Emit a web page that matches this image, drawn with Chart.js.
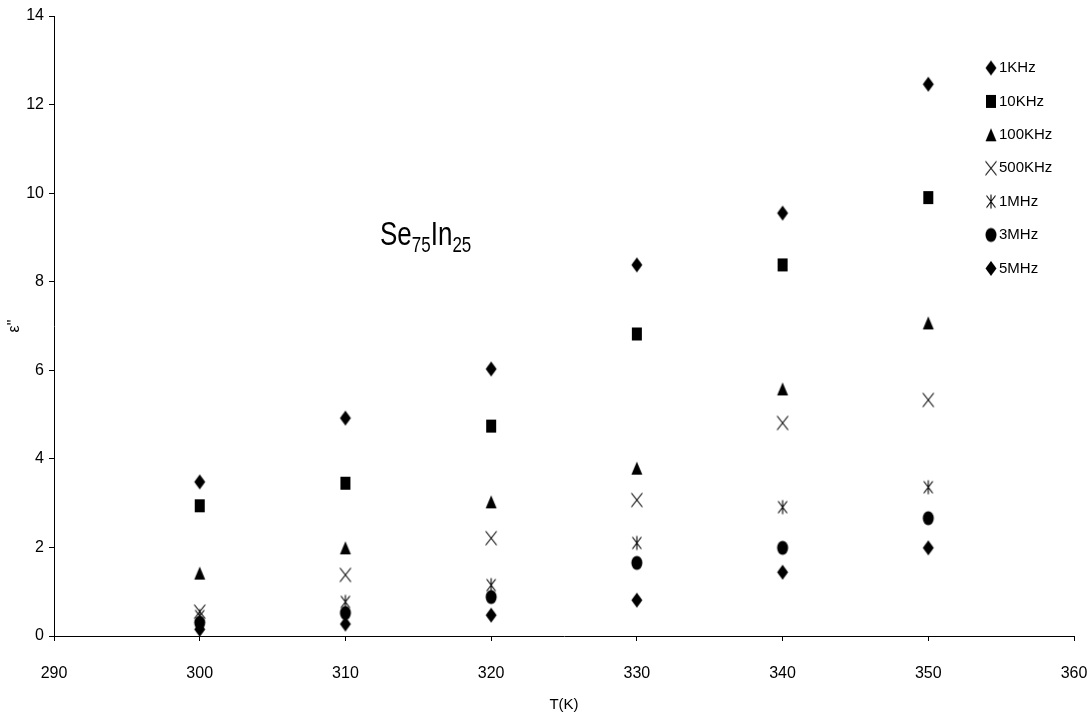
<!DOCTYPE html>
<html>
<head>
<meta charset="utf-8">
<script src="https://cdn.jsdelivr.net/npm/chart.js@4/dist/chart.umd.min.js"></script>
<style>
    html, body { margin: 0; padding: 0; background: #fff; }
    #wrap { width: 1090px; height: 719px; position: relative; }
</style>
</head>
<body>
<div id="wrap"><canvas id="epsChart"></canvas></div>
<script>
// --- Data ---
const temps = [300, 310, 320, 330, 340, 350];
const eps1k   = [3.48, 4.92, 6.03, 8.38, 9.55, 12.46];
const eps10k  = [2.94, 3.45, 4.74, 6.82, 8.38, 9.90];
const eps100k = [1.42, 1.99, 3.03, 3.79, 5.58, 7.07];
const eps500k = [0.55, 1.38, 2.21, 3.07, 4.81, 5.33];
const eps1M   = [0.45, 0.77, 1.15, 2.10, 2.91, 3.36];
const eps3M   = [0.30, 0.52, 0.88, 1.65, 1.99, 2.66];
const eps5M   = [0.15, 0.27, 0.47, 0.81, 1.44, 1.99];
const seriesLabels = ['1KHz', '10KHz', '100KHz', '500KHz', '1MHz', '3MHz', '5MHz'];
const xTicks = [290, 300, 310, 320, 330, 340, 350, 360];
const yTicks = [0, 2, 4, 6, 8, 10, 12, 14];

const FONT = "'Liberation Sans', Arial, sans-serif";

// small canvas markers, a bit taller than wide like the original
const makeMarker = (kind) => {
    const w = 14, h = 17;
    const c = document.createElement('canvas');
    c.width = w; c.height = h;
    const g = c.getContext('2d');
    g.fillStyle = '#000'; g.strokeStyle = '#000'; g.lineWidth = 1.1;
    const cx = w / 2, cy = h / 2;
    g.beginPath();
    if (kind === 'diamond') {
        g.moveTo(cx, cy - 7.5); g.lineTo(cx + 5.5, cy); g.lineTo(cx, cy + 7.5); g.lineTo(cx - 5.5, cy);
        g.closePath(); g.fill();
    } else if (kind === 'square') {
        g.fillRect(cx - 5, cy - 6.5, 10, 13);
    } else if (kind === 'triangle') {
        g.moveTo(cx, cy - 6.5); g.lineTo(cx + 5.5, cy + 6.5); g.lineTo(cx - 5.5, cy + 6.5);
        g.closePath(); g.fill();
    } else if (kind === 'x') {
        g.moveTo(cx - 5.5, cy - 7); g.lineTo(cx + 5.5, cy + 7);
        g.moveTo(cx + 5.5, cy - 7); g.lineTo(cx - 5.5, cy + 7);
        g.stroke();
    } else if (kind === 'star') {
        g.moveTo(cx, cy - 7); g.lineTo(cx, cy + 7);
        g.moveTo(cx - 4.5, cy - 6); g.lineTo(cx + 4.5, cy + 6);
        g.moveTo(cx + 4.5, cy - 6); g.lineTo(cx - 4.5, cy + 6);
        g.stroke();
    } else if (kind === 'circle') {
        g.ellipse(cx, cy, 5.5, 7, 0, 0, Math.PI * 2);
        g.fill();
    }
    return c;
};

const markers = ['diamond', 'square', 'triangle', 'x', 'star', 'circle', 'diamond'].map(makeMarker);
const allSeries = [eps1k, eps10k, eps100k, eps500k, eps1M, eps3M, eps5M];

const datasets = allSeries.map((vals, i) => ({
    label: seriesLabels[i],
    data: temps.map((t, j) => ({ x: t, y: vals[j] })),
    pointStyle: markers[i],
    showLine: false
}));

// legend inside the plot, top right
const legendPlugin = {
    id: 'innerLegend',
    afterDraw(chart) {
        const ctx = chart.ctx;
        ctx.save();
        ctx.font = '15px ' + FONT;
        ctx.fillStyle = '#000';
        ctx.textBaseline = 'middle';
        ctx.textAlign = 'left';
        seriesLabels.forEach((lab, i) => {
            const y = 68 + i * 33.4;
            const m = markers[i];
            ctx.drawImage(m, 991 - m.width / 2, y - m.height / 2);
            ctx.fillText(lab, 999, y);
        });
        ctx.restore();
    }
};

// Se75In25 label with subscripts (stretched vertically like the source)
const formulaPlugin = {
    id: 'formula',
    afterDraw(chart) {
        const ctx = chart.ctx;
        const parts = [['Se', false], ['75', true], ['In', false], ['25', true]];
        let x = 380;
        ctx.save();
        ctx.translate(0, 245);
        ctx.scale(1, 1.3);
        ctx.fillStyle = '#000';
        ctx.textBaseline = 'alphabetic';
        parts.forEach(([txt, sub]) => {
            ctx.font = (sub ? '17px ' : '26px ') + FONT;
            ctx.fillText(txt, x, sub ? 5 : 0);
            x += ctx.measureText(txt).width;
        });
        ctx.restore();
    }
};

new Chart(document.getElementById('epsChart').getContext('2d'), {
    type: 'scatter',
    data: { datasets },
    options: {
        responsive: true, maintainAspectRatio: false,
        animation: false,
        events: [],
        layout: { padding: { top: 16, right: 0, left: 0, bottom: 0 } },
        plugins: { legend: { display: false }, tooltip: { enabled: false } },
        elements: { point: { radius: 6 } },
        scales: {
            x: {
                type: 'linear', min: 290, max: 360,
                afterBuildTicks: (axis) => { axis.ticks = xTicks.map(v => ({ value: v })); },
                afterFit: (axis) => {
                    axis.height = 83;
                    axis.paddingLeft = 0;
                    axis.paddingRight = 16;
                },
                grid: { drawOnChartArea: false, drawTicks: true, tickLength: 5, color: '#000' },
                border: { display: true, color: '#000', width: 1 },
                ticks: { color: '#000', font: { family: FONT, size: 16 }, padding: 23, maxRotation: 0 },
                title: { display: true, text: 'T(K)', color: '#000', font: { family: FONT, size: 15 }, padding: { top: 4, bottom: 5 } }
            },
            y: {
                type: 'linear', min: 0, max: 14,
                afterBuildTicks: (axis) => { axis.ticks = yTicks.map(v => ({ value: v })); },
                afterFit: (axis) => {
                    axis.width = 54;
                    axis.paddingTop = 0;
                    axis.paddingBottom = 0;
                },
                grid: { drawOnChartArea: false, drawTicks: true, tickLength: 5, color: '#000' },
                border: { display: true, color: '#000', width: 1 },
                ticks: { color: '#000', font: { family: FONT, size: 16 }, padding: 5 },
                title: { display: true, text: 'ε"', color: '#000', font: { family: FONT, size: 16 }, padding: { top: 5, bottom: 4 } }
            }
        }
    },
    plugins: [legendPlugin, formulaPlugin]
});
</script>
</body>
</html>
